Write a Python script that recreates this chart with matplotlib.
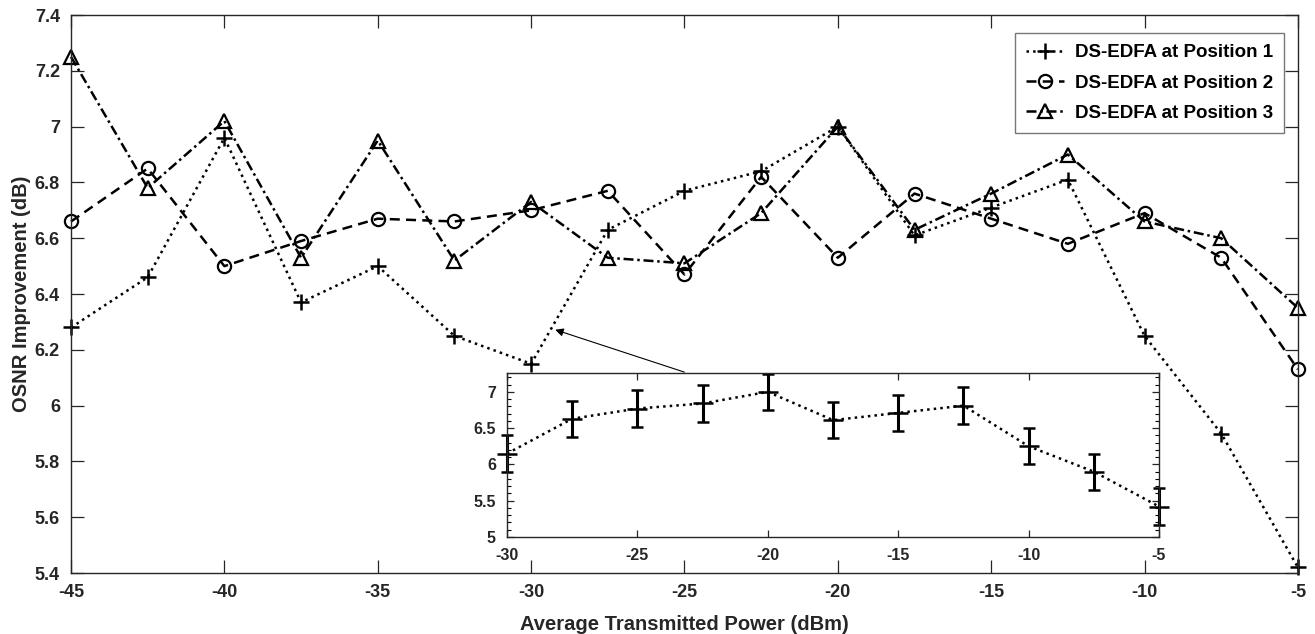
import matplotlib
matplotlib.use("Agg")
import matplotlib.pyplot as plt
from matplotlib.ticker import MultipleLocator

plt.rcParams['font.family'] = ['Liberation Sans', 'DejaVu Sans']
plt.rcParams['font.weight'] = 'bold'
plt.rcParams['axes.unicode_minus'] = False

power = [-45, -42.5, -40, -37.5, -35, -32.5, -30, -27.5, -25, -22.5,
         -20, -17.5, -15, -12.5, -10, -7.5, -5]
pos1 = [6.28, 6.46, 6.96, 6.37, 6.50, 6.25, 6.15, 6.63, 6.77, 6.84,
        7.00, 6.61, 6.71, 6.81, 6.25, 5.90, 5.42]
pos2 = [6.66, 6.85, 6.50, 6.59, 6.67, 6.66, 6.70, 6.77, 6.47, 6.82,
        6.53, 6.76, 6.67, 6.58, 6.69, 6.53, 6.13]
pos3 = [7.25, 6.78, 7.02, 6.53, 6.95, 6.52, 6.73, 6.53, 6.51, 6.69,
        7.00, 6.63, 6.76, 6.90, 6.66, 6.60, 6.35]

# zoomed view: position 1 from -30 dBm with error bars
inset_power = power[6:]
inset_pos1 = pos1[6:]
inset_err = [0.25] * len(inset_power)

labels = ['DS-EDFA at Position 1', 'DS-EDFA at Position 2', 'DS-EDFA at Position 3']
txt = '#262626'

fig = plt.figure(figsize=(13.15, 6.34), dpi=100)
ax = fig.add_axes([0.054, 0.0962, 0.933, 0.8801])

ax.plot(power, pos1, linestyle=':', marker='+', color='black', lw=1.8,
        markersize=11, mew=1.8, label=labels[0], clip_on=False)
ax.plot(power, pos2, linestyle='--', marker='o', color='black', lw=1.8,
        markersize=9.5, mew=1.6, mfc='none', label=labels[1], dashes=(4, 2.5),
        clip_on=False)
ax.plot(power, pos3, linestyle='-.', marker='^', color='black', lw=1.8,
        markersize=10.5, mew=1.6, mfc='none', label=labels[2],
        dashes=(4, 1.5, 1, 1.5), clip_on=False)

ax.set_xlim(-45, -5)
ax.set_ylim(5.4, 7.4)
ax.xaxis.set_major_locator(MultipleLocator(5))
ax.set_yticks([5.4, 5.6, 5.8, 6.0, 6.2, 6.4, 6.6, 6.8, 7.0, 7.2, 7.4])
ax.set_yticklabels(['5.4', '5.6', '5.8', '6', '6.2', '6.4', '6.6', '6.8', '7', '7.2', '7.4'])
ax.tick_params(direction='in', top=True, right=True, length=9.5, width=0.9,
               labelsize=13, colors=txt, pad=8)
for s in ax.spines.values():
    s.set_color(txt)
    s.set_linewidth(1.0)
ax.set_xlabel('Average Transmitted Power (dBm)', fontsize=14.5, fontweight='bold',
              color=txt, labelpad=10)
ax.set_ylabel('OSNR Improvement (dB)', fontsize=14.5, fontweight='bold', color=txt,
              labelpad=3)

leg = ax.legend(loc='upper right', bbox_to_anchor=(0.989, 0.968), fontsize=13.5,
                frameon=True, fancybox=False, edgecolor='#555555', handlelength=2.0,
                borderpad=0.6, labelspacing=0.7, borderaxespad=0, handletextpad=0.6)
leg.get_frame().set_linewidth(1.0)

ins = fig.add_axes([0.3856, 0.153, 0.4958, 0.2587])
ins.errorbar(inset_power, inset_pos1, yerr=inset_err, linestyle=':', marker='+',
             color='black', lw=1.8, markersize=14, mew=1.8, elinewidth=2.2,
             capsize=4, capthick=2.2, clip_on=False)
ins.set_xlim(-30, -5)
ins.set_ylim(5, 7.26)
ins.xaxis.set_major_locator(MultipleLocator(5))
ins.yaxis.set_minor_locator(MultipleLocator(0.1))
ins.set_yticks([5, 5.5, 6, 6.5, 7])
ins.set_yticklabels(['5', '5.5', '6', '6.5', '7'])
ins.tick_params(direction='in', top=True, right=True, length=5, width=0.9,
                labelsize=11.5, colors=txt, pad=8)
ins.tick_params(which='minor', direction='in', right=True, length=3, width=0.8)
for s in ins.spines.values():
    s.set_color(txt)
    s.set_linewidth(1.0)

ax.annotate('', xy=(-29.3, 6.275), xycoords='data',
            xytext=(0.276, 1.0), textcoords=ins.transAxes,
            arrowprops=dict(arrowstyle='-|>', color='black', lw=0.8,
                            mutation_scale=12))

fig.savefig('out.png', dpi=100)
